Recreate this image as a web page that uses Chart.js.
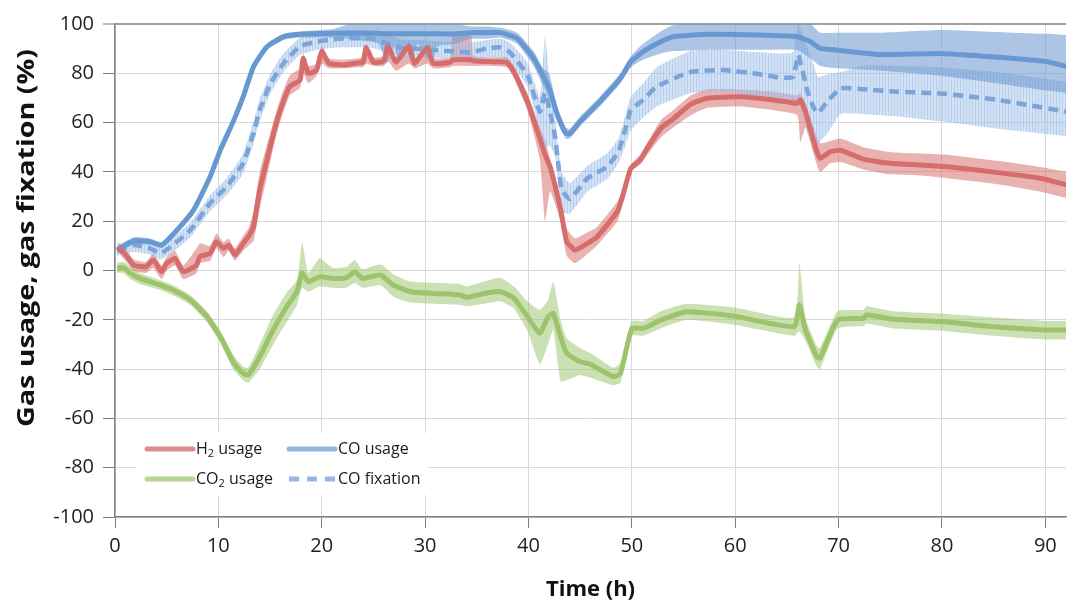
<!DOCTYPE html>
<html><head><meta charset="utf-8">
<script src="https://cdn.jsdelivr.net/npm/chart.js@4.4.1/dist/chart.umd.min.js"></script>
<style>html,body{margin:0;padding:0;background:#fff;}canvas{display:block;}</style>
</head><body>
<canvas id="c" width="1067" height="604"></canvas>
<script>
// ---------- DATA ----------
const h2Time = [0.3,1.1,1.8,3.0,3.7,4.5,5.0,5.8,6.6,7.9,8.2,9.2,9.8,10.5,11.0,11.6,12.4,12.9,13.4,14.0,14.7,15.5,16.1,16.9,17.9,18.2,18.7,19.5,20.0,20.7,22.1,23.4,24.0,24.3,25.0,26.0,26.4,27.2,28.4,29.0,30.2,30.8,32.4,32.7,34.4,34.7,36.5,37.9,38.6,39.9,41.1,41.6,42.1,43.1,43.7,44.5,45.5,46.6,48.6,49.1,49.9,50.8,51.5,52.8,54.0,55.7,57.3,60.5,63.7,66.0,66.3,66.8,67.6,68.2,69.2,70.2,72.4,75.0,77.9,80.5,85.4,89.5,92.1];
const h2Mean = [9.5,6,2.2,1.5,4.3,-0.5,2.9,4.9,-0.5,2.2,5.6,7,11.7,9,10.3,6.3,11,13.7,17.8,32.7,44.8,58.3,66.4,74.6,77.3,86,80,81.3,89,84,83.4,84.2,84.5,90.5,84.5,85,91,84.5,91,84,90.5,84,84.5,85.5,85.5,85,84.7,84.5,80.6,68.5,53.6,47,42,25,11.7,8.3,10.5,13.5,23.9,30,41.5,44.8,49.6,57.7,61.5,67.5,69.9,70.5,69.2,67.8,69.2,64.4,52.3,45.5,48.2,48.8,45.2,43.5,42.8,42.1,39.7,37.4,34.7];
const h2Low  = [7.5,3.5,0,-1,1,-3.5,0,2,-3.5,-1,3,4,9,5.5,8,4,8,10,12,25,38,53,62,71,74,80,76,79,84,82,82,82.5,82.5,84,83,83,85,81,84,82,84,82,82.5,83,83,83,83,82.5,78,65,45,20,32,20,6,3,6,10,20,27,40,43,47,54,58,63,66,66.5,65,63,52,58,47,40,43.5,44,41,39,38.5,37.4,35,32,29.3];
const h2High = [11.5,8.5,4.5,3.5,7,2,5.5,8,2,9,11,10,15,11.5,13,9,14,17,24,40,51,63,71,79,82,88,83,84,91,86,85.5,86,86.5,92,86.5,87,93,86.5,93,86,92,86,86.5,96.5,96.5,87,86.5,86.5,83,72,58,53,45,29,17,13,15,17.5,28,33,43,47,52,61,65,71,73.5,73.5,72.5,71,72,68,58,51.6,52.5,53.5,50,48,47.5,47,44.5,42,40];

const coTime = [0.2,1.8,3.4,4.5,6.0,7.6,9.2,10.2,11.5,12.4,13.4,14.7,16.3,17.9,21.1,23.5,25.5,26.3,27.0,27.4,28.2,28.6,29.3,30.6,31.2,33.0,34.4,36.0,37.3,38.9,40.5,41.4,42.0,42.8,43.6,44.0,45.0,46.9,48.9,49.9,51.1,52.8,54.0,57.3,62.4,66.0,67.3,68.2,69.9,74.1,79.9,86.9,90.2,92.1];
const coMean = [8.3,12,11.7,10.3,16.4,24.5,38,49,61,70.5,82.7,90.8,94.8,95.8,96.2,96.2,96.2,96,96,96,96,96,96,96,96,96,96.5,96.5,96.5,94.2,86.1,79,74,63.1,55.7,55.5,60.4,68.5,78,84.7,88.8,92.8,94.8,95.8,95.5,94.8,92.8,90.1,89.4,87.6,88,86,84.7,82.7];
const coLow  = [7,10.5,10.5,9,15,23,36.5,47.5,59.5,69,81,89.5,93.5,94.5,94.5,93.5,92,84,91,85,92,85,92,84,91,92,94,94,94.5,92,83,75,70,60,53.5,53.5,58.5,66.5,76,82.5,85.5,88,89,89.5,89.5,89.5,86,83,82,81,79,75,73,72];
const coHigh = [9.5,13.5,13,11.5,17.8,26,39.5,50.5,62.5,72,84,92,96,97,98,101,102,102,102,102,102,102,102,102,101,100,99,99,98.5,96.5,89,82,80,66,58,57.5,62.5,70.5,80,87,92,97,99.5,101,101,101,100,96.5,96.5,96.5,97.6,96.5,96,95.5];

const fixTime = [0.2,1.8,3.4,4.4,5.6,7.3,9.2,10.8,12.4,13.4,14.0,15.0,16.3,17.9,19.5,21.5,24.7,26.0,27.9,29.2,31.1,33.1,34.4,36.0,37.3,38.2,39.9,41.1,41.6,42.0,42.6,43.2,44.0,45.7,47.6,48.7,49.4,49.9,51.1,52.4,55.7,58.9,62.4,64.4,65.6,66.1,67.0,67.6,68.0,68.9,70.2,72.1,75.7,79.9,85.4,92.1];
const fixMean = [8,10.3,9,7,10.3,16.4,27.3,34,43.5,55.7,65,75.5,84,91,92.8,94,94.2,92.5,90.1,90,89.4,88.8,88.5,90.1,90.5,88.5,79.3,64.4,72,66,53.6,33,29,37.4,42.1,48.2,57.7,65.1,69.2,74.6,80.6,81.3,79.6,78.2,78.6,87.4,72.5,66,63.8,68.5,73.9,73.6,72.5,71.8,69.2,64.4];
const fixLow  = [6,7.5,6.5,4.5,7.5,13.5,24,30.5,39.5,51.5,60.5,71.5,80.5,87.5,89.5,90.5,90.5,89,86.5,86.5,86,85.5,85,86.5,86.5,84.5,74.5,57,49,51,46,24,23,32,37,43.5,51,57,62,66.5,72,72.5,70.5,68.5,67.5,69,56,50.5,51.5,55.5,63.5,63.5,62.5,60.5,57.5,54.5];
const fixHigh = [10.5,13,12,10.5,13.5,19.5,30.5,37.5,47.5,60.5,69.5,79.5,88,94.5,96.5,97.5,97.5,96.5,93.5,93.5,93,92.5,92.5,93.5,94,92.5,84.5,70.5,95.5,78.5,60.5,40,35.5,42.5,47.5,53.5,63.5,70.5,76,82.5,89,89.5,88.5,88,88.5,99.6,90.5,83.5,78.5,79.5,80.5,83,83,82.5,80.5,76.5];

const co2Time = [0.2,0.8,1.5,2.4,4.4,5.6,7.3,8.9,10.2,11.5,12.4,12.9,14.0,15.3,16.6,17.6,18.1,18.7,19.8,21.1,22.4,23.2,23.9,25.7,26.9,28.6,30.8,33.4,34.0,35.7,37.3,38.6,39.9,41.1,41.9,42.4,43.1,43.7,45.0,46.0,48.2,48.9,50.0,51.1,52.8,55.3,59.9,65.7,66.2,66.8,67.9,68.2,69.9,72.4,72.7,75.3,80.2,85.0,89.9,92.1];
const co2Mean = [0.9,1.3,-1.1,-3.2,-5.9,-7.9,-12,-18.7,-26.9,-37.6,-41.7,-42.4,-35,-24.1,-14.7,-8.6,-1.1,-4.5,-2.5,-3.2,-2.9,-0.5,-3.2,-1.8,-5.9,-8.6,-9.3,-9.9,-10.9,-9.3,-8.6,-11.3,-18.7,-25.5,-18.7,-17.4,-26.9,-33.6,-37,-38,-43.1,-41.7,-23.5,-23.5,-20.1,-16.7,-18.5,-22.8,-14,-24.1,-35,-35.6,-20.1,-19.4,-18,-19.8,-20.8,-22.8,-24.1,-24.1];
const co2Low  = [-1,-1,-3.5,-5.5,-8,-10,-14,-21,-29.5,-40.5,-44.5,-45.5,-40,-30,-21,-14,-7,-8.5,-6.5,-7,-7,-5,-7,-6,-10.5,-13,-13.5,-14,-14.5,-13.5,-12.5,-15.5,-24.5,-38,-30,-24,-45,-44.5,-42.5,-43.5,-46.5,-45.5,-26.5,-26.5,-23.5,-20,-22,-26.5,-24.5,-28.5,-39,-40,-23.5,-22.5,-21.5,-23.5,-24.5,-26.5,-28,-28];
const co2High = [3,3.5,1.5,-1,-4,-6,-10,-16.5,-24.5,-34.5,-39,-39.5,-30,-18,-9,-4,11.5,-1,5,1,1.5,4.3,0.5,2.5,-1.5,-4.5,-5,-5.5,-6.5,-4.5,-3,-6.5,-12.5,-16,-12,-4.5,-20,-27.5,-31.5,-33.5,-39.5,-37.5,-20.5,-20.5,-16.5,-13.5,-15,-19,3,-19.5,-30.5,-31.5,-16.5,-16,-14.5,-16.5,-17.5,-19,-20.5,-20.5];

const xTicks = {min: 0, max: 92, step: 10};
const yTicks = {min: -100, max: 100, step: 20};
const seriesNames = ['H2 usage', 'CO usage', 'CO2 usage', 'CO fixation'];

// ---------- CHART ----------
const pts = (t, v) => t.map((x, i) => ({x: x, y: v[i]}));
const canvas = document.getElementById('c');
const ctx0 = canvas.getContext('2d');

const pc = document.createElement('canvas'); pc.width = 3; pc.height = 3;
const pctx = pc.getContext('2d');
pctx.fillStyle = 'rgba(168,198,236,0.50)'; pctx.fillRect(0, 0, 3, 3);
pctx.fillStyle = 'rgba(120,160,215,0.30)'; pctx.fillRect(0, 0, 1, 3);
const hatch = ctx0.createPattern(pc, 'repeat');

const COL = {
  h2: '#d66d6d', h2Band: 'rgba(214,100,100,0.50)',
  co: '#6898d0', coBand: 'rgba(112,155,210,0.58)',
  fix: '#7ba5d8',
  co2: '#9dc36c', co2Band: 'rgba(152,196,104,0.50)'
};
const T = 0.15;
const line = (label, t, v, color, extra) => Object.assign({
  label, data: pts(t, v), borderColor: color, borderWidth: 5, pointRadius: 0,
  pointHoverRadius: 0, fill: false, tension: T, borderJoinStyle: 'round'
}, extra || {});
const edge = (label, t, v, extra) => Object.assign({
  label, data: pts(t, v), borderColor: 'rgba(0,0,0,0)', borderWidth: 1, pointRadius: 0,
  pointHoverRadius: 0, fill: false, tension: T
}, extra || {});

const datasets = [
  line(seriesNames[0], h2Time, h2Mean, COL.h2),
  line(seriesNames[2], co2Time, co2Mean, COL.co2),
  line(seriesNames[1], coTime, coMean, COL.co),
  line(seriesNames[3], fixTime, fixMean, COL.fix, {borderWidth: 4.5, borderDash: [10, 6], borderCapStyle: 'butt'}),
  edge('co hi', coTime, coHigh),
  edge('co lo', coTime, coLow, {fill: {target: 4}, backgroundColor: COL.coBand}),
  edge('fix hi', fixTime, fixHigh),
  edge('fix lo', fixTime, fixLow, {fill: {target: 6}, backgroundColor: hatch}),
  edge('h2 hi', h2Time, h2High),
  edge('h2 lo', h2Time, h2Low, {fill: {target: 8}, backgroundColor: COL.h2Band}),
  edge('co2 hi', co2Time, co2High),
  edge('co2 lo', co2Time, co2Low, {fill: {target: 10}, backgroundColor: COL.co2Band})
];

const FONT = '"Open Sans", "DejaVu Sans", sans-serif';

const deco = {
  id: 'deco',
  afterDraw(chart) {
    const ctx = chart.ctx;
    const a = chart.chartArea;
    ctx.save();
    // legend box
    const lx = a.left + 21, ly = a.bottom - 84;
    ctx.fillStyle = '#ffffff';
    ctx.fillRect(lx, ly, 292, 62);
    const items = [
      {c: 'rgba(222,140,140,1)', base: 'H', sub: '2', rest: ' usage', x: lx + 9, y: ly + 16},
      {c: 'rgba(150,182,224,1)', base: 'CO', sub: '', rest: ' usage', x: lx + 151, y: ly + 16},
      {c: 'rgba(184,212,146,1)', base: 'CO', sub: '2', rest: ' usage', x: lx + 9, y: ly + 46},
      {c: 'rgba(150,182,224,1)', base: 'CO fixation', sub: '', rest: '', x: lx + 151, y: ly + 46, dash: true}
    ];
    items.forEach(it => {
      ctx.strokeStyle = it.c; ctx.lineWidth = 5;
      ctx.lineCap = it.dash ? 'butt' : 'round';
      ctx.setLineDash(it.dash ? [10, 8] : []);
      ctx.beginPath(); ctx.moveTo(it.x + 2, it.y); ctx.lineTo(it.x + 48, it.y); ctx.stroke();
      ctx.setLineDash([]);
      ctx.fillStyle = '#1a1a1a'; ctx.textBaseline = 'middle'; ctx.textAlign = 'left';
      let tx = it.x + 51;
      ctx.font = '16px ' + FONT;
      ctx.fillText(it.base, tx, it.y);
      tx += ctx.measureText(it.base).width;
      if (it.sub) {
        ctx.font = '11px ' + FONT;
        ctx.fillText(it.sub, tx, it.y + 5);
        tx += ctx.measureText(it.sub).width;
      }
      ctx.font = '16px ' + FONT;
      if (it.rest) ctx.fillText(it.rest, tx, it.y);
    });
    // y axis title
    const t = 'Gas usage, gas fixation (%)';
    ctx.translate(27, 238);
    ctx.rotate(-Math.PI / 2);
    ctx.font = 'bold 24px ' + FONT;
    const w = ctx.measureText(t).width;
    ctx.scale(378 / w, 1);
    ctx.fillStyle = '#111';
    ctx.textAlign = 'center'; ctx.textBaseline = 'middle';
    ctx.fillText(t, 0, 0);
    ctx.restore();
  }
};

function build() {
  new Chart(canvas, {
    type: 'line',
    data: {datasets},
    options: {
      responsive: false, animation: false, devicePixelRatio: 1,
      layout: {padding: {top: 24, right: 1, left: 0, bottom: 0}},
      plugins: {legend: {display: false}, tooltip: {enabled: false}},
      scales: {
        x: {
          type: 'linear', min: xTicks.min, max: xTicks.max,
          ticks: {stepSize: xTicks.step, includeBounds: false, maxRotation: 0, padding: 6,
                  color: '#222', font: {family: FONT, size: 20}},
          grid: {color: '#d9d9d9', lineWidth: 1, tickLength: 11, tickColor: '#808080', tickWidth: 1},
          border: {display: true, color: '#808080', width: 1.5},
          title: {display: true, text: 'Time (h)', color: '#111',
                  font: {family: FONT, size: 22, weight: 'bold'}, padding: {top: 0, bottom: 1}},
          afterFit(s) { s.height = 87; }
        },
        y: {
          min: yTicks.min, max: yTicks.max,
          ticks: {stepSize: yTicks.step, padding: 9, color: '#222', font: {family: FONT, size: 20}},
          grid: {color: c => (c.tick && c.tick.value === yTicks.max) ? '#a0a0a0' : '#d9d9d9',
                 lineWidth: c => (c.tick && c.tick.value === yTicks.max) ? 2 : 1,
                 tickLength: 12, tickColor: '#808080', tickWidth: 1},
          border: {display: true, color: '#808080', width: 1.5},
          afterFit(s) { s.width = 115; }
        }
      }
    },
    plugins: [deco]
  });
}
Promise.all([
  document.fonts.load('20px "Open Sans"'),
  document.fonts.load('bold 22px "Open Sans"')
]).then(build, build);
</script>
</body></html>
